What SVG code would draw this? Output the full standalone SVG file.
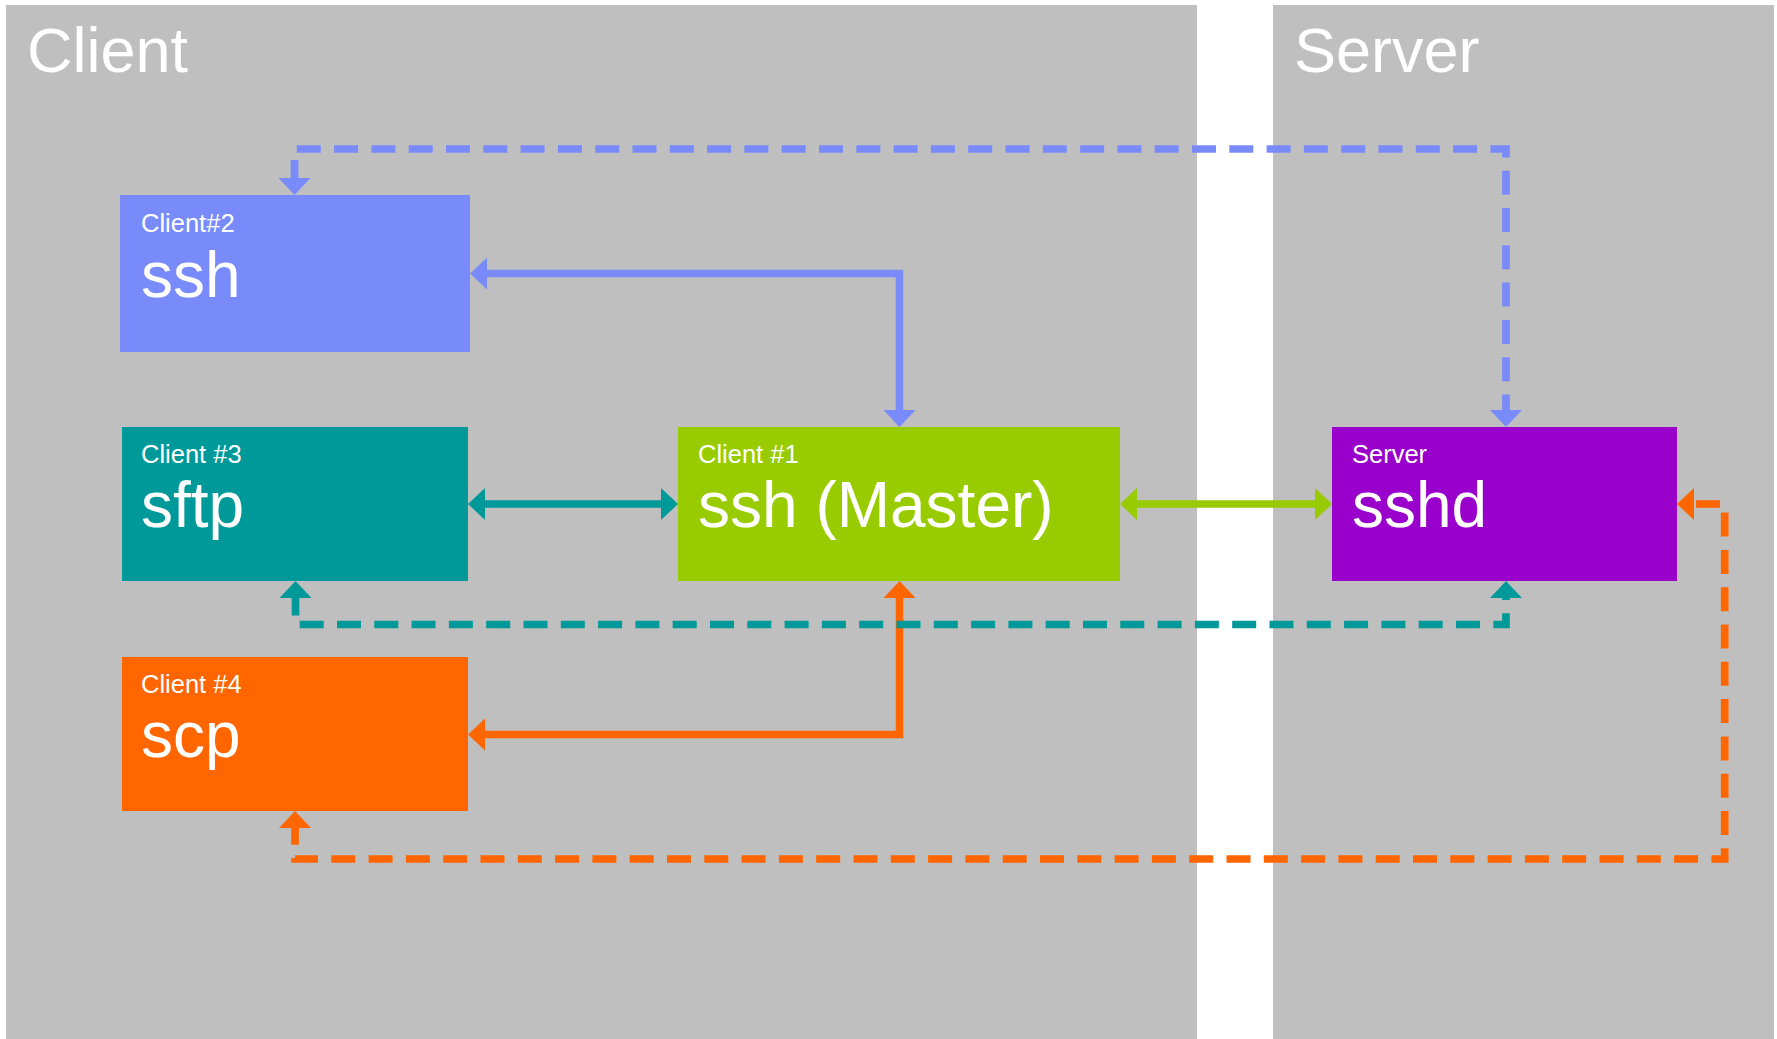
<svg xmlns="http://www.w3.org/2000/svg" width="1777" height="1039" viewBox="0 0 1777 1039">
<style>
.panel{fill:#BFBFBF}
.title{font-family:"Liberation Sans",Arial,sans-serif;font-size:63px;fill:#FFFFFF}
.lbl{font-family:"Liberation Sans",Arial,sans-serif;font-size:25.5px;fill:#FFFFFF}
.big{font-family:"Liberation Sans",Arial,sans-serif;font-size:64px;fill:#FFFFFF}
.solid{fill:none;stroke-width:7.5}
.dash{fill:none;stroke-width:7.7;stroke-dasharray:24 13.3}
</style>
<defs>
<marker id="aBlue" viewBox="0 0 17 32" refX="0" refY="16" markerWidth="17" markerHeight="32" markerUnits="userSpaceOnUse" orient="auto-start-reverse"><path d="M0,0 L17,16 L0,32 Z" fill="#798BFA"/></marker>
<marker id="aTeal" viewBox="0 0 17 32" refX="0" refY="16" markerWidth="17" markerHeight="32" markerUnits="userSpaceOnUse" orient="auto-start-reverse"><path d="M0,0 L17,16 L0,32 Z" fill="#009999"/></marker>
<marker id="aOrange" viewBox="0 0 17 32" refX="0" refY="16" markerWidth="17" markerHeight="32" markerUnits="userSpaceOnUse" orient="auto-start-reverse"><path d="M0,0 L17,16 L0,32 Z" fill="#FF6600"/></marker>
<marker id="aGreen" viewBox="0 0 17 32" refX="0" refY="16" markerWidth="17" markerHeight="32" markerUnits="userSpaceOnUse" orient="auto-start-reverse"><path d="M0,0 L17,16 L0,32 Z" fill="#99CC00"/></marker>
</defs>
<rect width="1777" height="1039" fill="#FFFFFF"/>
<g id="client-panel">
<rect class="panel" x="6" y="5" width="1191" height="1034"/>
<text class="title" x="27" y="72">Client</text>
</g>
<g id="server-panel">
<rect class="panel" x="1273" y="5" width="501" height="1034"/>
<text class="title" x="1294" y="72">Server</text>
</g>
<g id="client2">
<rect x="120" y="195" width="350" height="157" fill="#798BFA"/>
<text class="lbl" x="141" y="232">Client#2</text>
<text class="big" x="141" y="297">ssh</text>
</g>
<g id="client3">
<rect x="122" y="427" width="346" height="154" fill="#009999"/>
<text class="lbl" x="141" y="463">Client #3</text>
<text class="big" x="141" y="527">sftp</text>
</g>
<g id="client4">
<rect x="122" y="657" width="346" height="154" fill="#FF6600"/>
<text class="lbl" x="141" y="693">Client #4</text>
<text class="big" x="141" y="757">scp</text>
</g>
<g id="client1">
<rect x="678" y="427" width="442" height="154" fill="#99CC00"/>
<text class="lbl" x="698" y="463">Client #1</text>
<text class="big" x="698" y="527">ssh (Master)</text>
</g>
<g id="server">
<rect x="1332" y="427" width="345" height="154" fill="#9900CC"/>
<text class="lbl" x="1352" y="463">Server</text>
<text class="big" x="1352" y="527">sshd</text>
</g>
<g id="connectors">
<path class="solid" stroke="#798BFA" d="M487,273.5 L899.5,273.5 L899.5,410" marker-start="url(#aBlue)" marker-end="url(#aBlue)"/>
<path class="solid" stroke="#009999" d="M485,504 L661,504" marker-start="url(#aTeal)" marker-end="url(#aTeal)"/>
<path class="solid" stroke="#99CC00" d="M1137,504 L1315,504" marker-start="url(#aGreen)" marker-end="url(#aGreen)"/>
<path class="solid" stroke="#FF6600" d="M899.5,598 L899.5,734.5 L485,734.5" marker-start="url(#aOrange)" marker-end="url(#aOrange)"/>
<path class="dash" stroke="#798BFA" stroke-dashoffset="6" d="M294.5,178 L294.5,149 L1506,149 L1506,410" marker-start="url(#aBlue)" marker-end="url(#aBlue)"/>
<path class="dash" stroke="#009999" stroke-dashoffset="6.6" d="M295.5,598 L295.5,624.5 L1506,624.5 L1506,598" marker-start="url(#aTeal)" marker-end="url(#aTeal)"/>
<path class="dash" stroke="#FF6600" stroke-dashoffset="-2" d="M1694,504 L1724.7,504 L1724.7,859 L295,859 L295,828" marker-start="url(#aOrange)" marker-end="url(#aOrange)"/>
</g>
</svg>
